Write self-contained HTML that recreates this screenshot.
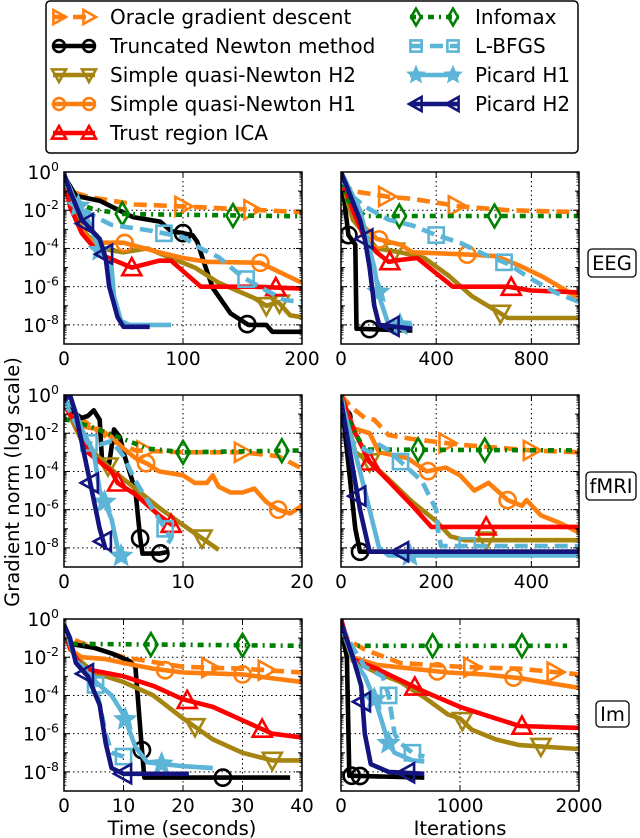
<!DOCTYPE html>
<html><head><meta charset="utf-8"><style>
html,body{margin:0;padding:0;background:#fff;}
svg{display:block;font-family:"DejaVu Sans","Liberation Sans",sans-serif;}
</style></head><body>
<svg id="fig" width="640" height="838" viewBox="0 0 640 838" xmlns="http://www.w3.org/2000/svg"></svg>
<script>
// ---- data: [x, log10(gradient norm)] ----
const eegT_oracle=[[0,-0.3],[5,-1.0],[20,-1.3],[60,-1.7],[100,-1.8],[150,-1.95],[200,-2.1]];
const eegT_oracle_mk=[100,158];
const eegT_tn=[[0,-0.2],[10,-1.25],[30,-1.5],[58,-2.36],[81,-2.6],[90,-3.1],[100,-3.2],[108,-3.3],[112,-3.66],[118,-4.8],[125,-6.07],[140,-7.4],[155,-8.0],[170,-8.0],[175,-8.36],[200,-8.36]];
const eegT_tn_mk=[100,154];
const eegT_sqn2=[[0,-0.3],[15,-3.0],[30,-4.0],[50,-4.2],[70,-4.0],[90,-4.5],[110,-5.0],[130,-5.8],[160,-6.6],[170,-7.0],[180,-6.8],[190,-7.5],[200,-7.6]];
const eegT_sqn2_mk=[170,181];
const eegT_sqn1=[[0,-0.3],[10,-2.5],[20,-3.48],[30,-3.7],[50,-3.7],[80,-4.2],[100,-4.5],[120,-4.7],[165,-4.75],[180,-5.2],[200,-5.8]];
const eegT_sqn1_mk=[51,165];
const eegT_tr=[[0,-0.3],[5,-1.8],[15,-3.2],[30,-4.3],[57,-5.0],[80,-4.64],[90,-4.64],[115,-6.0],[160,-6.0],[200,-6.1]];
const eegT_tr_mk=[57,178];
const eegT_infomax=[[0,-0.5],[10,-1.6],[25,-1.96],[50,-2.2],[200,-2.32]];
const eegT_infomax_mk=[49,142];
const eegT_lbfgs=[[0,-0.3],[10,-1.8],[15,-1.9],[25,-2.3],[40,-2.77],[70,-3.04],[100,-3.4],[115,-4.0],[130,-4.46],[150,-5.5],[170,-6.2],[185,-6.7],[200,-6.8]];
const eegT_lbfgs_mk=[84,153];
const eegT_pic1=[[0,-0.1],[10,-1.6],[20,-2.5],[30,-4.1],[40,-5.0],[42,-6.5],[48,-7.8],[55,-8.0],[90,-8.0]];
const eegT_pic1_mk=[12,30];
const eegT_pic2=[[0,-0.1],[5,-1.0],[15,-2.5],[30,-3.5],[35,-4.5],[38,-6.0],[45,-7.6],[50,-8.1],[72,-8.1]];
const eegT_pic2_mk=[18,34];

const eegI_oracle=[[0,-0.5],[50,-1.0],[200,-1.3],[300,-1.4],[500,-1.8],[700,-2.0],[1000,-2.1]];
const eegI_oracle_mk=[192,485];
const eegI_tn=[[0,0],[31,-3.3],[60,-3.8],[65,-8.2],[300,-8.3]];
const eegI_tn_mk=[31,120];
const eegI_sqn2=[[0,-0.3],[50,-2.5],[150,-4.0],[250,-4.2],[350,-4.5],[450,-5.4],[550,-6.5],[670,-7.4],[700,-7.64],[1000,-7.64]];
const eegI_sqn2_mk=[225,670];
const eegI_sqn1=[[0,-0.3],[50,-2.0],[100,-2.9],[150,-3.5],[250,-3.8],[300,-4.2],[500,-4.3],[650,-4.4],[750,-4.9],[850,-5.5],[1000,-6.6]];
const eegI_sqn1_mk=[160,530];
const eegI_tr=[[0,-0.3],[50,-2.0],[100,-3.5],[150,-4.2],[200,-4.7],[250,-4.6],[320,-4.5],[400,-5.3],[470,-6.0],[700,-6.0],[800,-6.2],[1000,-6.3]];
const eegI_tr_mk=[205,715];
const eegI_infomax=[[0,-0.5],[30,-1.5],[100,-2.3],[1000,-2.3]];
const eegI_infomax_mk=[245,645];
const eegI_lbfgs=[[0,-0.3],[50,-1.3],[100,-1.8],[200,-2.5],[300,-2.8],[400,-3.3],[500,-3.7],[600,-4.3],[700,-4.8],[800,-5.6],[900,-6.3],[1000,-6.8]];
const eegI_lbfgs_mk=[400,685];
const eegI_pic1=[[0,0],[80,-2.0],[110,-3.5],[140,-5.0],[160,-6.5],[200,-8.0],[300,-8.0]];
const eegI_pic1_mk=[157,248];
const eegI_pic2=[[0,0],[80,-2.5],[100,-3.5],[120,-5.0],[140,-7.0],[160,-8.0],[300,-8.2]];
const eegI_pic2_mk=[100,210];

const fmT_oracle=[[0,-0.5],[2,-1.5],[4,-2.4],[6,-2.9],[10,-3.0],[15,-3.0],[18,-3.2],[20,-3.85]];
const fmT_oracle_mk=[6.8,15];
const fmT_tn=[[0,-0.3],[1,-1.0],[1.5,-1.2],[2,-1.1],[2.5,-0.8],[3,-1.3],[3.2,-3.5],[3.8,-3.6],[4.2,-1.8],[4.7,-2.2],[5,-3.0],[5.5,-4.0],[6,-5.0],[6.4,-7.5],[6.6,-8.3],[8,-8.3],[8.8,-8.2]];
const fmT_tn_mk=[6.4,8.1];
const fmT_sqn2=[[0,-0.3],[0.8,-1.5],[1.5,-2.4],[2,-2.7],[3,-3.3],[4,-3.9],[6,-4.9],[8,-5.9],[10,-6.8],[13,-8.1]];
const fmT_sqn2_mk=[3.7,11.6];
const fmT_sqn1=[[0,-0.5],[1,-1.5],[2,-1.7],[3,-1.8],[4,-2.2],[5,-2.8],[6,-3.3],[7,-3.6],[8,-4.0],[10,-4.2],[11,-4.6],[12,-4.6],[12.5,-4.2],[13,-4.8],[14,-5.1],[15,-5.1],[16,-4.9],[17,-5.6],[18,-6.0],[19,-6.2],[20,-5.8]];
const fmT_sqn1_mk=[6.9,18];
const fmT_tr=[[0,-0.5],[1,-1.5],[2,-3.0],[4,-4.0],[4.5,-4.6],[6,-5.2],[8,-6.3],[9.3,-6.9]];
const fmT_tr_mk=[4.5,9.0];
const fmT_infomax=[[0,-1.25],[2,-1.6],[5,-2.3],[7,-2.8],[10,-3.0],[20,-2.9]];
const fmT_infomax_mk=[10,18.3];
const fmT_lbfgs=[[0,-0.3],[1,-1.5],[2,-2.5],[3,-2.6],[4,-2.4],[5,-3.2],[6,-4.5],[7,-5.5],[8,-6.5],[8.5,-7.0],[9,-7.5],[8.5,-8.0]];
const fmT_lbfgs_mk=[2.1,8.5];
const fmT_pic1=[[0,-0.3],[0.8,-0.6],[1.5,-1.8],[2.5,-3.0],[3,-5.0],[4,-6.5],[4.5,-8.0],[5,-8.7]];
const fmT_pic1_mk=[3.4,4.8];
const fmT_pic2=[[0,-0.3],[0.5,0],[1,-1.0],[1.5,-2.5],[2,-4.0],[2.5,-5.5],[3,-7.0],[3.5,-8.1]];
const fmT_pic2_mk=[2.2,3.3];

const fmI_oracle=[[0,0],[20,-0.6],[50,-1.2],[70,-1.3],[100,-2.1],[150,-2.3],[250,-2.6],[400,-2.9],[500,-3.0]];
const fmI_oracle_mk=[223,400];
const fmI_tn=[[0,0],[30,-7.0],[40,-8.2],[500,-8.2]];
const fmI_tn_mk=[5,40];
const fmI_sqn2=[[0,0],[30,-3.0],[60,-3.5],[100,-4.4],[150,-5.6],[200,-6.6],[230,-7.4],[260,-7.6],[500,-7.6]];
const fmI_sqn2_mk=[60,305];
const fmI_sqn1=[[0,0],[20,-1.7],[60,-2.0],[80,-3.0],[140,-3.3],[180,-4.0],[220,-3.8],[250,-4.2],[280,-5.0],[310,-4.6],[350,-5.5],[380,-5.8],[390,-5.5],[420,-6.3],[460,-6.7],[500,-7.2]];
const fmI_sqn1_mk=[183,350];
const fmI_tr=[[0,0],[30,-2.0],[60,-3.5],[100,-4.5],[150,-5.8],[190,-6.9],[500,-6.9]];
const fmI_tr_mk=[60,305];
const fmI_infomax=[[0,-0.5],[30,-2.0],[50,-2.85],[500,-2.9]];
const fmI_infomax_mk=[162,302];
const fmI_lbfgs=[[0,0],[20,-2.4],[60,-3.0],[80,-2.6],[100,-2.9],[130,-3.6],[170,-4.5],[200,-6.0],[205,-7.3],[210,-7.9],[500,-7.9]];
const fmI_lbfgs_mk=[125,265];
const fmI_pic1=[[0,-0.2],[40,-4.0],[80,-8.0],[100,-8.4],[500,-8.4]];
const fmI_pic1_mk=[145];
const fmI_pic2=[[0,-0.3],[40,-6.0],[60,-8.2],[500,-8.2]];
const fmI_pic2_mk=[35,125];

const imT_oracle=[[0,-0.3],[1,-1.0],[5,-1.5],[10,-2.0],[20,-2.5],[30,-2.6],[40,-2.8]];
const imT_oracle_mk=[24.5,34];
const imT_tn=[[0,-0.3],[1,-1.3],[5,-1.5],[8,-1.8],[11,-2.2],[12,-2.5],[12.5,-4.5],[13,-6.5],[13.5,-8.3],[38,-8.3]];
const imT_tn_mk=[13.1,26.7];
const imT_sqn2=[[0,-0.5],[2,-2.0],[5,-2.8],[10,-3.3],[15,-4.0],[20,-5.2],[25,-6.3],[30,-7.0],[35,-7.4],[40,-7.4]];
const imT_sqn2_mk=[22,35];
const imT_sqn1=[[0,-0.3],[1,-1.6],[3,-2.0],[7,-2.1],[10,-2.3],[15,-2.6],[20,-2.8],[30,-2.9],[40,-3.3]];
const imT_sqn1_mk=[17,30];
const imT_tr=[[0,-0.5],[1,-1.5],[3,-2.5],[5,-2.7],[10,-3.0],[15,-3.5],[20,-4.2],[25,-4.6],[30,-5.3],[35,-6.0],[40,-6.2]];
const imT_tr_mk=[20.7,33.3];
const imT_infomax=[[0,-0.5],[1,-1.3],[40,-1.4]];
const imT_infomax_mk=[14.6,30];
const imT_lbfgs=[[0,-0.3],[2,-2.2],[5,-3.0],[6,-4.5],[7,-6.0],[8,-7.0],[10,-7.2],[10.5,-7.3]];
const imT_lbfgs_mk=[5.3,10];
const imT_pic1=[[0,-0.3],[2,-2.2],[5,-3.2],[8,-4.0],[10,-5.0],[12,-6.7],[14,-7.5],[20,-7.7],[25,-7.8]];
const imT_pic1_mk=[10.3,16.4];
const imT_pic2=[[0,-0.3],[1,-1.0],[2,-2.3],[4,-3.0],[6,-4.5],[7,-6.5],[8,-7.8],[10,-8.1],[21,-8.1]];
const imT_pic2_mk=[3.6,10];

const imI_oracle=[[0,-0.5],[60,-1.1],[200,-1.6],[500,-2.3],[1000,-2.5],[1500,-2.6],[2000,-2.9]];
const imI_oracle_mk=[1100,1800];
const imI_tn=[[0,-0.5],[50,-2.0],[70,-8.2],[700,-8.3]];
const imI_tn_mk=[90,160];
const imI_sqn2=[[0,-0.3],[100,-2.2],[300,-2.8],[500,-3.3],[700,-4.1],[900,-5.0],[1000,-5.2],[1100,-5.8],[1300,-6.3],[1500,-6.6],[2000,-6.8]];
const imI_sqn2_mk=[1020,1680];
const imI_sqn1=[[0,-0.3],[100,-2.0],[300,-2.4],[600,-2.6],[900,-2.8],[1200,-2.9],[1500,-3.1],[1800,-3.4],[2000,-3.6]];
const imI_sqn1_mk=[810,1450];
const imI_tr=[[0,0],[100,-2.1],[300,-2.6],[500,-3.2],[700,-3.8],[1000,-4.6],[1300,-5.2],[1500,-5.6],[2000,-5.7]];
const imI_tr_mk=[620,1520];
const imI_infomax=[[0,-0.5],[30,-1.3],[100,-1.4],[1900,-1.4]];
const imI_infomax_mk=[770,1520];
const imI_lbfgs=[[0,-0.3],[100,-1.5],[200,-2.5],[350,-3.0],[400,-4.0],[450,-6.0],[500,-6.5],[600,-7.0],[700,-7.2]];
const imI_lbfgs_mk=[400,600];
const imI_pic1=[[0,-0.3],[100,-2.1],[200,-3.0],[300,-4.5],[400,-6.5],[450,-7.0],[600,-7.4],[700,-7.45]];
const imI_pic1_mk=[280,400];
const imI_pic2=[[0,-0.2],[100,-2.0],[170,-3.5],[200,-6.0],[250,-7.6],[400,-8.0],[700,-8.1]];
const imI_pic2_mk=[180,550];

// tick labels
const yTickExps=[0,-2,-4,-6,-8];
const eegTimeTicks=[0,100,200];
const eegIterTicks=[0,400,800];
const fmTimeTicks=[0,10,20];
const fmIterTicks=[0,200,400];
const imTimeTicks=[0,10,20,30,40];
const imIterTicks=[0,1000,2000];
const legendNames=['Oracle gradient descent','Truncated Newton method','Simple quasi-Newton H2','Simple quasi-Newton H1','Trust region ICA','Infomax','L-BFGS','Picard H1','Picard H2'];

const NS='http://www.w3.org/2000/svg';
const svg=document.getElementById('fig');
function el(tag,attrs,parent){const e=document.createElementNS(NS,tag);for(const k in attrs)e.setAttribute(k,attrs[k]);(parent||svg).appendChild(e);return e;}

const ORDER=['oracle','tn','sqn2','sqn1','tr','infomax','lbfgs','pic1','pic2'];
const STY={
 oracle:{c:'#ff7f0e',dash:'13,7',m:'tri_r'},
 tn:{c:'#000000',dash:'',m:'circle'},
 sqn2:{c:'#a5850f',dash:'',m:'tri_d'},
 sqn1:{c:'#ff7f0e',dash:'',m:'circle'},
 tr:{c:'#ff0000',dash:'',m:'tri_u'},
 infomax:{c:'#008000',dash:'6,5,2,5',m:'diamond'},
 lbfgs:{c:'#5cb5d6',dash:'13,7',m:'square'},
 pic1:{c:'#5cb5d6',dash:'',m:'star'},
 pic2:{c:'#14147f',dash:'',m:'tri_l'}
};

function drawMarker(g,kind,cx,cy,col,s){
 let e;
 const a={fill:'none',stroke:col,'stroke-width':2.6};
 if(kind==='circle'){e=el('circle',Object.assign({cx:cx,cy:cy,r:s*0.85},a),g);}
 else if(kind==='square'){e=el('rect',Object.assign({x:cx-s*0.8,y:cy-s*0.8,width:s*1.6,height:s*1.6},a),g);}
 else{
  let p;
  if(kind==='tri_r')p=[[cx+s,cy],[cx-s*0.8,cy-s],[cx-s*0.8,cy+s]];
  else if(kind==='tri_l')p=[[cx-s,cy],[cx+s*0.8,cy-s],[cx+s*0.8,cy+s]];
  else if(kind==='tri_u')p=[[cx,cy-s],[cx-s,cy+s*0.8],[cx+s,cy+s*0.8]];
  else if(kind==='tri_d')p=[[cx,cy+s],[cx-s,cy-s*0.8],[cx+s,cy-s*0.8]];
  else if(kind==='diamond')p=[[cx,cy-s*1.2],[cx+s*0.7,cy],[cx,cy+s*1.2],[cx-s*0.7,cy]];
  else if(kind==='star'){p=[];for(let i=0;i<10;i++){const r=i%2?s*0.45:s;const t=-Math.PI/2+i*Math.PI/5;p.push([cx+r*Math.cos(t),cy+r*Math.sin(t)]);} a.fill=col;}
  e=el('polygon',Object.assign({points:p.map(q=>q[0].toFixed(1)+','+q[1].toFixed(1)).join(' ')},a),g);
 }
 return e;
}
function interp(data,x){
 for(let i=0;i<data.length-1;i++){const a=data[i],b=data[i+1];if((x>=a[0]&&x<=b[0])||(x<=a[0]&&x>=b[0])){const t=b[0]===a[0]?0:(x-a[0])/(b[0]-a[0]);return a[1]+t*(b[1]-a[1]);}}
 return data[data.length-1][1];
}

const PW=238,PH=172;
let clipId=0;
function panel(name,x0,y0,xmax,ticks,dataset,showY){
 const g=el('g',{});
 
 
 const sx=v=>x0+v/xmax*PW;
 const sy=l=>y0+(-l)*PH/9;
 ticks.forEach(t=>{if(t>0&&t<xmax){const l=el('line',{x1:sx(t),x2:sx(t),y1:y0,y2:y0+PH,stroke:'#000','stroke-width':1,'stroke-dasharray':'1.5,3'},g);}});
 yTickExps.forEach(e=>{if(e<0){const l=el('line',{x1:x0,x2:x0+PW,y1:sy(e),y2:sy(e),stroke:'#000','stroke-width':1,'stroke-dasharray':'1.5,3'},g);}});
 const cid='clip'+(clipId++);
 const cp=el('clipPath',{id:cid},g);el('rect',{x:x0,y:y0,width:PW,height:PH},cp);
 const sg=el('g',{'clip-path':'url(#'+cid+')'},g);
 ORDER.forEach(k=>{
  const d=dataset[k][0],mk=dataset[k][1],st=STY[k];
  const pl=el('polyline',{points:d.map(p=>sx(p[0]).toFixed(1)+','+sy(p[1]).toFixed(1)).join(' '),fill:'none',stroke:st.c,'stroke-width':4.6,'stroke-linejoin':'round','stroke-dasharray':st.dash},sg);
  
  
  mk.forEach(x=>{const m=drawMarker(sg,st.m,sx(x),sy(interp(d,x)),st.c,9.5);
   
   });
 });
 for(let dec=0;dec>=-9;dec--){
  const y=sy(dec);const len=(dec%2===0)?6:4;
  el('line',{x1:x0,x2:x0+len,y1:y,y2:y,stroke:'#000','stroke-width':1},g);
  el('line',{x1:x0+PW,x2:x0+PW-len,y1:y,y2:y,stroke:'#000','stroke-width':1},g);
  if(dec>-9)for(let m=2;m<10;m++){const yy=sy(dec-1+Math.log10(m));
   el('line',{x1:x0,x2:x0+2.5,y1:yy,y2:yy,stroke:'#000','stroke-width':0.8},g);
   el('line',{x1:x0+PW,x2:x0+PW-2.5,y1:yy,y2:yy,stroke:'#000','stroke-width':0.8},g);}
 }
 ticks.forEach(t=>{const x=sx(t);
  el('line',{x1:x,x2:x,y1:y0+PH,y2:y0+PH-6,stroke:'#000','stroke-width':1},g);
  el('line',{x1:x,x2:x,y1:y0,y2:y0+6,stroke:'#000','stroke-width':1},g);
  const tx=el('text',{x:x,y:y0+PH+21,'font-size':18.5,'text-anchor':'middle',fill:'#000'},g);
  tx.textContent=String(t);
  
  
 });
 if(showY){yTickExps.forEach(e=>{
  const tx=el('text',{x:x0-5,y:sy(e)+7,'font-size':18.5,'text-anchor':'end',fill:'#000'},g);
  const a=el('tspan',{},tx);a.textContent='10';
  const b=el('tspan',{'font-size':12.5,dy:-8},tx);b.textContent=String(e);
  
  
 });}
 const fr=el('rect',{x:x0,y:y0,width:PW,height:PH,fill:'none',stroke:'#000','stroke-width':1.5},g);
 
 
}
function ds(p){return {oracle:[p.oracle,p.oracle_mk],tn:[p.tn,p.tn_mk],sqn2:[p.sqn2,p.sqn2_mk],sqn1:[p.sqn1,p.sqn1_mk],tr:[p.tr,p.tr_mk],infomax:[p.infomax,p.infomax_mk],lbfgs:[p.lbfgs,p.lbfgs_mk],pic1:[p.pic1,p.pic1_mk],pic2:[p.pic2,p.pic2_mk]};}
panel('eeg-time-panel',64,172,200,eegTimeTicks,ds({oracle:eegT_oracle,oracle_mk:eegT_oracle_mk,tn:eegT_tn,tn_mk:eegT_tn_mk,sqn2:eegT_sqn2,sqn2_mk:eegT_sqn2_mk,sqn1:eegT_sqn1,sqn1_mk:eegT_sqn1_mk,tr:eegT_tr,tr_mk:eegT_tr_mk,infomax:eegT_infomax,infomax_mk:eegT_infomax_mk,lbfgs:eegT_lbfgs,lbfgs_mk:eegT_lbfgs_mk,pic1:eegT_pic1,pic1_mk:eegT_pic1_mk,pic2:eegT_pic2,pic2_mk:eegT_pic2_mk}),true);
panel('eeg-iter-panel',341,172,1000,eegIterTicks,ds({oracle:eegI_oracle,oracle_mk:eegI_oracle_mk,tn:eegI_tn,tn_mk:eegI_tn_mk,sqn2:eegI_sqn2,sqn2_mk:eegI_sqn2_mk,sqn1:eegI_sqn1,sqn1_mk:eegI_sqn1_mk,tr:eegI_tr,tr_mk:eegI_tr_mk,infomax:eegI_infomax,infomax_mk:eegI_infomax_mk,lbfgs:eegI_lbfgs,lbfgs_mk:eegI_lbfgs_mk,pic1:eegI_pic1,pic1_mk:eegI_pic1_mk,pic2:eegI_pic2,pic2_mk:eegI_pic2_mk}),false);
panel('fmri-time-panel',64,395,20,fmTimeTicks,ds({oracle:fmT_oracle,oracle_mk:fmT_oracle_mk,tn:fmT_tn,tn_mk:fmT_tn_mk,sqn2:fmT_sqn2,sqn2_mk:fmT_sqn2_mk,sqn1:fmT_sqn1,sqn1_mk:fmT_sqn1_mk,tr:fmT_tr,tr_mk:fmT_tr_mk,infomax:fmT_infomax,infomax_mk:fmT_infomax_mk,lbfgs:fmT_lbfgs,lbfgs_mk:fmT_lbfgs_mk,pic1:fmT_pic1,pic1_mk:fmT_pic1_mk,pic2:fmT_pic2,pic2_mk:fmT_pic2_mk}),true);
panel('fmri-iter-panel',341,395,500,fmIterTicks,ds({oracle:fmI_oracle,oracle_mk:fmI_oracle_mk,tn:fmI_tn,tn_mk:fmI_tn_mk,sqn2:fmI_sqn2,sqn2_mk:fmI_sqn2_mk,sqn1:fmI_sqn1,sqn1_mk:fmI_sqn1_mk,tr:fmI_tr,tr_mk:fmI_tr_mk,infomax:fmI_infomax,infomax_mk:fmI_infomax_mk,lbfgs:fmI_lbfgs,lbfgs_mk:fmI_lbfgs_mk,pic1:fmI_pic1,pic1_mk:fmI_pic1_mk,pic2:fmI_pic2,pic2_mk:fmI_pic2_mk}),false);
panel('im-time-panel',64,619,40,imTimeTicks,ds({oracle:imT_oracle,oracle_mk:imT_oracle_mk,tn:imT_tn,tn_mk:imT_tn_mk,sqn2:imT_sqn2,sqn2_mk:imT_sqn2_mk,sqn1:imT_sqn1,sqn1_mk:imT_sqn1_mk,tr:imT_tr,tr_mk:imT_tr_mk,infomax:imT_infomax,infomax_mk:imT_infomax_mk,lbfgs:imT_lbfgs,lbfgs_mk:imT_lbfgs_mk,pic1:imT_pic1,pic1_mk:imT_pic1_mk,pic2:imT_pic2,pic2_mk:imT_pic2_mk}),true);
panel('im-iter-panel',341,619,2000,imIterTicks,ds({oracle:imI_oracle,oracle_mk:imI_oracle_mk,tn:imI_tn,tn_mk:imI_tn_mk,sqn2:imI_sqn2,sqn2_mk:imI_sqn2_mk,sqn1:imI_sqn1,sqn1_mk:imI_sqn1_mk,tr:imI_tr,tr_mk:imI_tr_mk,infomax:imI_infomax,infomax_mk:imI_infomax_mk,lbfgs:imI_lbfgs,lbfgs_mk:imI_lbfgs_mk,pic1:imI_pic1,pic1_mk:imI_pic1_mk,pic2:imI_pic2,pic2_mk:imI_pic2_mk}),false);

let t=el('text',{x:0,y:0,'font-size':19.5,'text-anchor':'middle',transform:'translate(19,482) rotate(-90)'});t.textContent='Gradient norm (log scale)';


t=el('text',{x:182,y:835,'font-size':19.5,'text-anchor':'middle'});t.textContent='Time (seconds)';


t=el('text',{x:460,y:835,'font-size':19.5,'text-anchor':'middle'});t.textContent='Iterations';



[['EEG',588,249,48,28],['fMRI',586,472,50,28],['Im',596,701,33,26]].forEach(b=>{
 const g=el('g',{});
 
 
 el('rect',{x:b[1],y:b[2],width:b[3],height:b[4],rx:4,fill:'#fff',stroke:'#000','stroke-width':1.3},g);
 const tt=el('text',{x:b[1]+b[3]/2,y:b[2]+b[4]/2+7,'font-size':19.5,'text-anchor':'middle'},g);tt.textContent=b[0];
});

const lg=el('g',{});


el('rect',{x:46,y:1,width:532,height:152,rx:4,fill:'#fff',stroke:'#000','stroke-width':1.5},lg);
ORDER.forEach((k,i)=>{
 const col=i<5?0:1;const row=i<5?i:i-5;
 const y=17+row*29;const xa=col?410:53,xb=col?459:95,xt=col?475:110;
 const e=el('g',{},lg);
 
 
 const st=STY[k];
 el('line',{x1:xa,x2:xb,y1:y,y2:y,stroke:st.c,'stroke-width':4.6,'stroke-dasharray':st.dash},e);
 drawMarker(e,st.m,xa+6,y,st.c,7);drawMarker(e,st.m,xb-6,y,st.c,7);
 const tt=el('text',{x:xt,y:y+7,'font-size':20},e);tt.textContent=legendNames[i];
});
</script>
</body></html>
